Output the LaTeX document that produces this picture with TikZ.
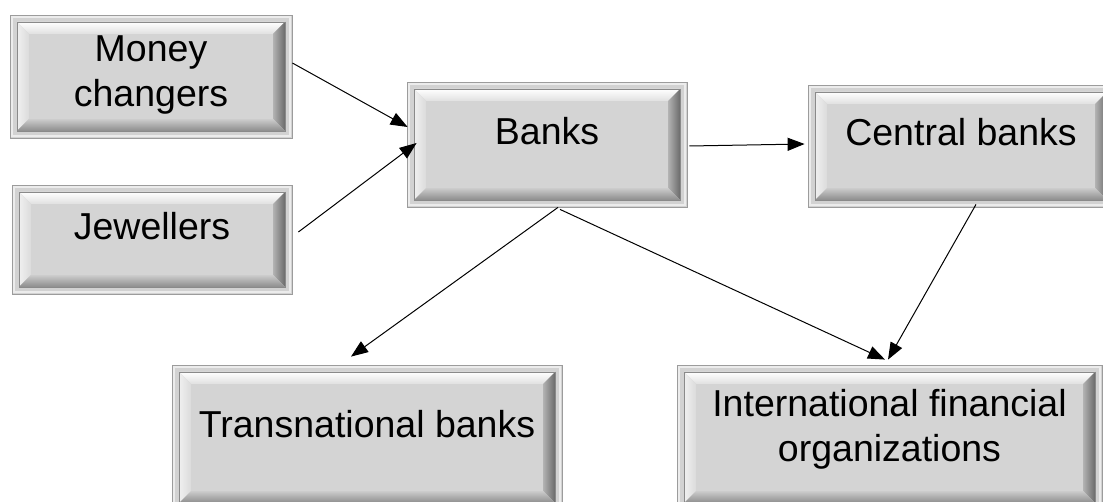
\documentclass[tikz,border=0pt]{standalone}
\usepackage{fontspec}
\setmainfont{Liberation Sans}
\usetikzlibrary{arrows.meta,calc}

\definecolor{edgegray}{HTML}{9C9C9C}
\definecolor{framegray}{HTML}{D2D2D2}
\definecolor{seamgray}{HTML}{8A8A8A}
\definecolor{facegray}{HTML}{D4D4D4}

% text set on the node centre: baseline of the last line moved by #1
\newcommand\boxlabel[2]{\raisebox{#1}[0pt][0pt]{\begin{tabular}[b]{@{}c@{}}#2\end{tabular}}}

\tikzset{
  bevelbox/.style={
    rectangle, inner sep=0pt, draw=edgegray, line width=0.8pt, fill=framegray,
    font=\fontsize{37.5}{45.5}\selectfont,
    path picture={
      \coordinate (o1) at ($(path picture bounding box.south west)+(7pt,7pt)$);
      \coordinate (o2) at ($(path picture bounding box.north east)+(-7pt,-7pt)$);
      \coordinate (i1) at ($(path picture bounding box.south west)+(19pt,19pt)$);
      \coordinate (i2) at ($(path picture bounding box.north east)+(-19pt,-19pt)$);
      % light rim just inside the outer edge
      \draw[white!85!gray, line width=1.2pt]
        ($(path picture bounding box.south west)+(2pt,2pt)$) rectangle
        ($(path picture bounding box.north east)+(-2pt,-2pt)$);
      % top bevel
      \shade[top color=white, bottom color=black!12]
        (o1 |- o2) -- (o2) -- (i2) -- (i1 |- i2) -- cycle;
      % left bevel
      \shade[left color=black!6, right color=black!14]
        (o1) -- (o1 |- o2) -- (i1 |- i2) -- (i1) -- cycle;
      % right bevel
      \shade[left color=black!30, right color=black!58]
        (o2 |- o1) -- (o2) -- (i2) -- (i2 |- i1) -- cycle;
      % bottom bevel
      \shade[top color=black!20, bottom color=black!45]
        (o1) -- (o2 |- o1) -- (i2 |- i1) -- (i1) -- cycle;
      % face
      \fill[facegray] (i1) rectangle (i2);
      \draw[seamgray, line width=0.6pt] (o1) rectangle (o2);
    }},
  conn/.style={draw=black, line width=1pt, -{Triangle[length=17pt,width=13pt]}}
}

\begin{document}
\begin{tikzpicture}[x=1pt, y=-1pt]
\useasboundingbox (0,0) rectangle (1103,502);
\clip (0,0) rectangle (1103,502);

\node[bevelbox, minimum width=282pt, minimum height=123pt] (mc) at (151,76.5)
  {\boxlabel{-30.5pt}{Money\\changers}};
\node[bevelbox, minimum width=280pt, minimum height=109pt] (jw) at (152,239.5)
  {\boxlabel{0pt}{Jewellers}};
\node[bevelbox, minimum width=280pt, minimum height=125pt] (bk) at (547,144.5)
  {\boxlabel{0pt}{Banks}};
\node[bevelbox, minimum width=306pt, minimum height=122pt] (cb) at (961,146)
  {\boxlabel{0pt}{Central banks}};
\node[bevelbox, minimum width=390pt, minimum height=145pt] (tb) at (367,437.5)
  {\boxlabel{0pt}{Transnational banks}};
\node[bevelbox, minimum width=425pt, minimum height=145pt] (ifo) at (889.5,437.5)
  {\boxlabel{-24.5pt}{International financial\\organizations}};

\draw[conn] ([yshift=13.5pt]mc.east) -- ([xshift=1pt,yshift=17.5pt]bk.west);
\draw[conn] ([xshift=6pt,yshift=7.5pt]jw.east) -- ([xshift=10pt,yshift=1.5pt]bk.west);
\draw[conn] ([xshift=2pt,yshift=-1.5pt]bk.east) -- ([xshift=-3pt,yshift=2pt]cb.west);
\draw[conn] ([xshift=11pt]bk.south) -- ([xshift=-16pt,yshift=8pt]tb.north);
\draw[conn] ([xshift=13pt,yshift=-2pt]bk.south) -- ([xshift=-4.5pt,yshift=5pt]ifo.north);
\draw[conn] ([xshift=15pt,yshift=3pt]cb.south) -- ([xshift=-1.5pt,yshift=5pt]ifo.north);
\end{tikzpicture}
\end{document}
